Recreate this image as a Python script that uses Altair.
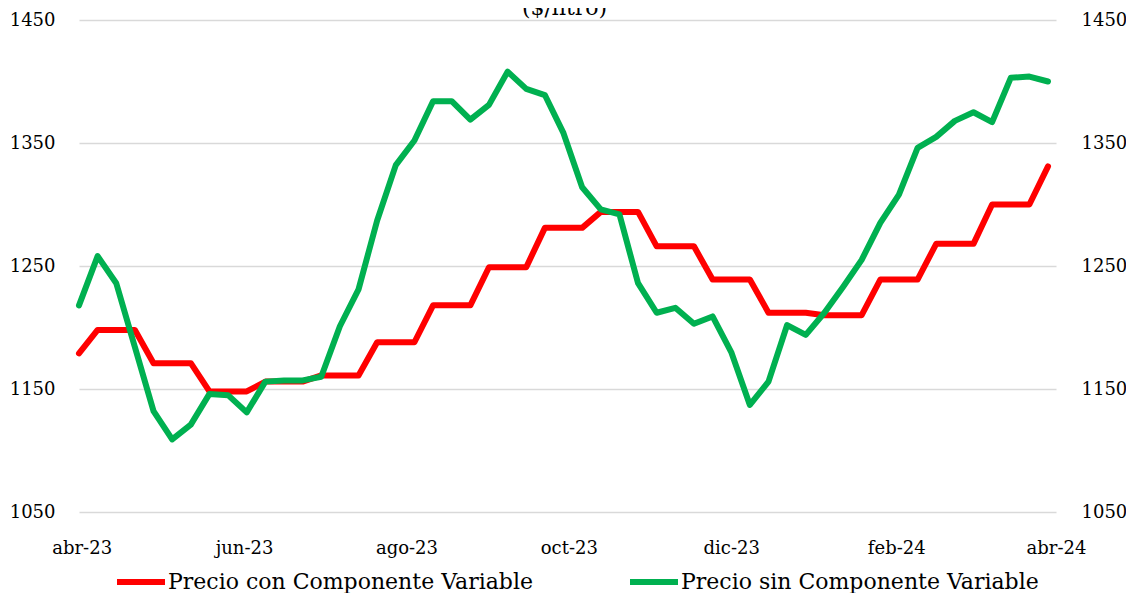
import altair as alt
import pandas as pd

serie_con = "Precio con Componente Variable"
serie_sin = "Precio sin Componente Variable"
titulo = "($/litro)"

fechas = list(pd.date_range("2023-03-31", periods=53, freq="7D"))

precio_con = [1179, 1198, 1198, 1198, 1171, 1171, 1171, 1148, 1148, 1148,
              1156, 1156, 1156, 1161, 1161, 1161, 1188, 1188, 1188, 1218,
              1218, 1218, 1249, 1249, 1249, 1281, 1281, 1281, 1294, 1294,
              1294, 1266, 1266, 1266, 1239, 1239, 1239, 1212, 1212, 1212,
              1210, 1210, 1210, 1239, 1239, 1239, 1268, 1268, 1268, 1300,
              1300, 1300, 1331]

precio_sin = [1218, 1258, 1236, 1184, 1132, 1109, 1121, 1146, 1145, 1131,
              1156, 1157, 1157, 1160, 1201, 1231, 1287, 1332, 1352, 1384,
              1384, 1369, 1381, 1408, 1394, 1389, 1358, 1314, 1296, 1292,
              1236, 1212, 1216, 1203, 1209, 1180, 1137, 1156, 1202, 1194,
              1212, 1233, 1255, 1285, 1308, 1346, 1355, 1368, 1375, 1367,
              1403, 1404, 1400]

y_ticks = [1050, 1150, 1250, 1350, 1450]
x_ticks = [(2023, 4), (2023, 6), (2023, 8), (2023, 10), (2023, 12), (2024, 2), (2024, 4)]
meses = ["ene", "feb", "mar", "abr", "may", "jun", "jul", "ago", "sep", "oct", "nov", "dic"]

colores = ["#FF0000", "#00B050"]
FONT = "DejaVu Serif"
W, H = 977, 492

df = pd.DataFrame({
    "fecha": fechas + fechas,
    "precio": precio_con + precio_sin,
    "serie": [serie_con] * len(precio_con) + [serie_sin] * len(precio_sin),
})

label_expr = ("[" + ",".join("'%s'" % m for m in meses) + "][month(datum.value)]"
              " + '-' + timeFormat(datum.value, '%y')")

x_enc = alt.X(
    "fecha:T",
    scale=alt.Scale(domain=[alt.DateTime(year=2023, month=3, date=31),
                            alt.DateTime(year=2024, month=4, date=1)]),
    axis=alt.Axis(
        values=[alt.DateTime(year=y, month=m, date=1) for y, m in x_ticks],
        labelExpr=label_expr, title=None, grid=False, domain=False, ticks=False,
        labelFlush=False, labelOverlap=False, labelBound=False, labelPadding=27,
        labelFont=FONT, labelFontSize=18, labelColor="black",
    ),
)

y_scale = alt.Scale(domain=[1050, 1450], nice=False, zero=False)

color_enc = alt.Color(
    "serie:N",
    scale=alt.Scale(domain=[serie_con, serie_sin], range=colores),
    legend=alt.Legend(
        title=None, orient="none", legendX=35, legendY=535, direction="horizontal",
        symbolType="stroke", symbolStrokeWidth=6, symbolSize=2304,
        labelFont=FONT, labelFontSize=22, labelColor="black", labelOffset=0,
        labelLimit=600, columnPadding=85, padding=0,
    ),
)

line_kw = dict(strokeWidth=6, strokeCap="round", strokeJoin="round")

capa_con = alt.Chart(df).transform_filter(alt.datum.serie == serie_con).mark_line(**line_kw).encode(
    x=x_enc,
    y=alt.Y("precio:Q", scale=y_scale, axis=alt.Axis(
        orient="left", values=y_ticks, format="d", title=None, domain=False, ticks=False,
        grid=True, gridColor="#d9d9d9", gridWidth=1.6, labelPadding=24,
        labelFont=FONT, labelFontSize=18, labelColor="black")),
    color=color_enc,
)

capa_sin = alt.Chart(df).transform_filter(alt.datum.serie == serie_sin).mark_line(**line_kw).encode(
    x=x_enc,
    y=alt.Y("precio:Q", scale=y_scale, axis=alt.Axis(
        orient="right", values=y_ticks, format="d", title=None, domain=False, ticks=False,
        grid=False, labelPadding=25,
        labelFont=FONT, labelFontSize=18, labelColor="black")),
    color=color_enc,
)

capa_titulo = alt.Chart(pd.DataFrame({"t": [titulo]})).mark_text(
    font=FONT, fontSize=22, color="black", align="center", baseline="alphabetic",
).encode(text="t:N", x=alt.value(W / 2 - 3), y=alt.value(-5))

chart = alt.layer(capa_con, capa_sin, capa_titulo).resolve_scale(y="independent").properties(
    width=W, height=H,
    autosize=alt.AutoSizeParams(type="none"),
    padding={"left": 71, "top": 12, "right": 70, "bottom": 81},
).configure_view(stroke=None)

chart.save("out.html", embed_options={"renderer": "svg", "actions": False})
